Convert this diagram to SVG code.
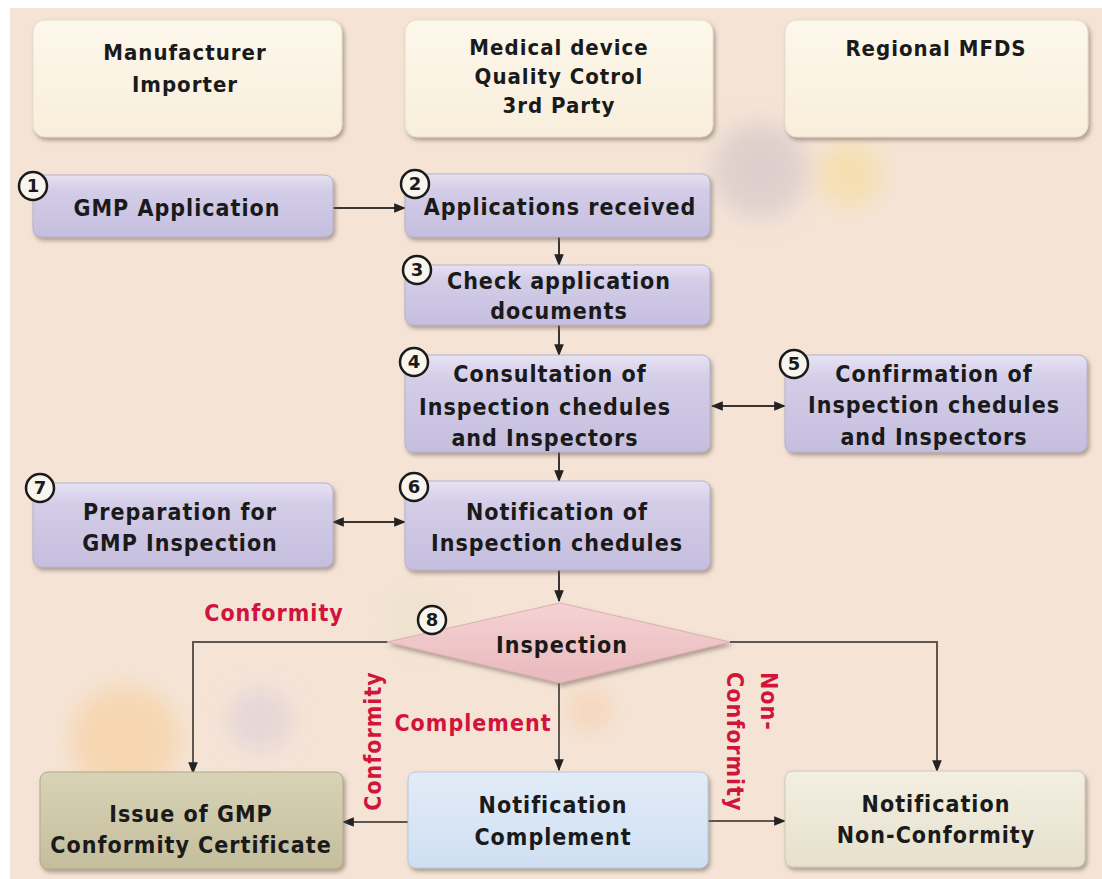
<svg xmlns="http://www.w3.org/2000/svg" width="1102" height="879" viewBox="0 0 1102 879">
<defs>
  <linearGradient id="gPurple" x1="0" y1="0" x2="0" y2="1">
    <stop offset="0" stop-color="#e6e2f3"/>
    <stop offset="0.25" stop-color="#d3cde8"/>
    <stop offset="1" stop-color="#c5bede"/>
  </linearGradient>
  <linearGradient id="gHead" x1="0" y1="0" x2="0" y2="1">
    <stop offset="0" stop-color="#fdf8ec"/>
    <stop offset="1" stop-color="#f8eedb"/>
  </linearGradient>
  <linearGradient id="gOlive" x1="0" y1="0" x2="0" y2="1">
    <stop offset="0" stop-color="#d8d3b6"/>
    <stop offset="1" stop-color="#c4be9d"/>
  </linearGradient>
  <linearGradient id="gBlue" x1="0" y1="0" x2="0" y2="1">
    <stop offset="0" stop-color="#e2ecf8"/>
    <stop offset="1" stop-color="#cfdff2"/>
  </linearGradient>
  <linearGradient id="gCream" x1="0" y1="0" x2="0" y2="1">
    <stop offset="0" stop-color="#f3efe2"/>
    <stop offset="1" stop-color="#e6e0cc"/>
  </linearGradient>
  <linearGradient id="gPink" x1="0" y1="0" x2="0" y2="1">
    <stop offset="0" stop-color="#f4d3d4"/>
    <stop offset="1" stop-color="#e9b9bd"/>
  </linearGradient>
  <filter id="sh" x="-10%" y="-10%" width="125%" height="130%">
    <feDropShadow dx="2" dy="3" stdDeviation="2" flood-color="#6f6258" flood-opacity="0.55"/>
  </filter>
  <filter id="blur" x="-50%" y="-50%" width="200%" height="200%">
    <feGaussianBlur stdDeviation="12"/>
  </filter>
  <marker id="ah2" viewBox="0 0 10 10" refX="9" refY="5" markerWidth="12" markerHeight="12" orient="auto-start-reverse" markerUnits="userSpaceOnUse">
    <path d="M0,1 L10,5 L0,9 z" fill="#222"/>
  </marker>
  <style>
    .t { font-family: "DejaVu Sans Condensed", "DejaVu Sans", "Liberation Sans", sans-serif; font-stretch: condensed; font-weight: bold; font-size: 23px; letter-spacing: 1px; fill: #1a1a1a; text-anchor: middle; }
    .h { font-size: 22px; }
    .r { fill: #d0143c; font-size: 23px; }
    .box { stroke: #b9b1cc; stroke-width: 1; filter: url(#sh); }
    .num { fill: #f8f4ee; stroke: #1a1a1a; stroke-width: 2.5; }
    .nt { font-family: "DejaVu Sans", "Liberation Sans", sans-serif; font-weight: bold; font-size: 18px; fill: #1a1a1a; text-anchor: middle; }
    .ln { fill: none; stroke: #3a3330; stroke-width: 2; }
    .ln2 { fill: none; stroke: #5e5650; stroke-width: 2; }
  </style>
</defs>

<rect x="0" y="0" width="1102" height="879" fill="#ffffff"/>
<rect x="10" y="8" width="1092" height="871" fill="#f5e4d6"/>
<g id="decor" filter="url(#blur)" opacity="0.5">
  <circle cx="760" cy="170" r="48" fill="#c9bcc4"/>
  <circle cx="850" cy="175" r="32" fill="#f6d98a"/>
  <circle cx="990" cy="90" r="26" fill="#f6d3a8"/>
  <circle cx="125" cy="740" r="55" fill="#f7c98e"/>
  <circle cx="260" cy="720" r="32" fill="#d8c8d8"/>
  <circle cx="590" cy="710" r="22" fill="#f6c7a0"/>
  <circle cx="420" cy="620" r="35" fill="#e9e0c8"/>
</g>

<g id="connectors">
  <line class="ln" x1="333" y1="208" x2="405" y2="208" marker-end="url(#ah2)"/>
  <line class="ln" x1="559" y1="237" x2="559" y2="265" marker-end="url(#ah2)"/>
  <line class="ln" x1="559" y1="325" x2="559" y2="355" marker-end="url(#ah2)"/>
  <line class="ln" x1="712" y1="406" x2="785" y2="406" marker-start="url(#ah2)" marker-end="url(#ah2)"/>
  <line class="ln" x1="559" y1="452" x2="559" y2="481" marker-end="url(#ah2)"/>
  <line class="ln" x1="333" y1="522" x2="405" y2="522" marker-start="url(#ah2)" marker-end="url(#ah2)"/>
  <line class="ln" x1="559" y1="570" x2="559" y2="601" marker-end="url(#ah2)"/>
  <polyline class="ln2" points="388,642 193,642 193,773" marker-end="url(#ah2)"/>
  <polyline class="ln2" points="730,642 937,642 937,771" marker-end="url(#ah2)"/>
  <line class="ln2" x1="559" y1="683" x2="559" y2="770" marker-end="url(#ah2)"/>
  <line class="ln2" x1="408" y1="822" x2="343" y2="822" marker-end="url(#ah2)"/>
  <line class="ln2" x1="708" y1="821" x2="785" y2="821" marker-end="url(#ah2)"/>
  <text class="t r" x="274" y="621">Conformity</text>
  <text class="t r" x="473" y="731">Complement</text>
  <text class="t r" transform="translate(381,741) rotate(-90)" x="0" y="0">Conformity</text>
  <g transform="translate(761,672) rotate(90)">
    <text class="t r" x="0" y="0" style="text-anchor:start">Non-</text>
    <text class="t r" x="0" y="34" style="text-anchor:start">Conformity</text>
  </g>
</g>

<g id="hdr-manufacturer">
  <rect x="33" y="20" width="309" height="117" rx="12" fill="url(#gHead)" stroke="#e8dcc6" filter="url(#sh)"/>
  <text class="t h" x="185" y="60">Manufacturer</text>
  <text class="t h" x="185" y="92">Importer</text>
</g>
<g id="hdr-medical">
  <rect x="405" y="20" width="308" height="117" rx="12" fill="url(#gHead)" stroke="#e8dcc6" filter="url(#sh)"/>
  <text class="t h" x="559" y="55">Medical device</text>
  <text class="t h" x="559" y="84">Quality Cotrol</text>
  <text class="t h" x="559" y="113">3rd Party</text>
</g>
<g id="hdr-mfds">
  <rect x="785" y="20" width="303" height="117" rx="12" fill="url(#gHead)" stroke="#e8dcc6" filter="url(#sh)"/>
  <text class="t h" x="936" y="56">Regional MFDS</text>
</g>

<g id="n1">
  <rect class="box" x="33" y="175" width="300" height="62" rx="8" fill="url(#gPurple)"/>
  <text class="t" x="177" y="216">GMP Application</text>
  <circle class="num" cx="33" cy="186" r="14"/>
  <text class="nt" x="33" y="192">1</text>
</g>
<g id="n2">
  <rect class="box" x="405" y="174" width="305" height="63" rx="8" fill="url(#gPurple)"/>
  <text class="t" x="560" y="215">Applications received</text>
  <circle class="num" cx="415" cy="184" r="14"/>
  <text class="nt" x="415" y="190">2</text>
</g>
<g id="n3">
  <rect class="box" x="405" y="265" width="305" height="60" rx="8" fill="url(#gPurple)"/>
  <text class="t" x="559" y="289">Check application</text>
  <text class="t" x="559" y="319">documents</text>
  <circle class="num" cx="417" cy="270" r="14"/>
  <text class="nt" x="417" y="276">3</text>
</g>
<g id="n4">
  <rect class="box" x="405" y="355" width="305" height="97" rx="8" fill="url(#gPurple)"/>
  <text class="t" x="550" y="382">Consultation of</text>
  <text class="t" x="545" y="415">Inspection chedules</text>
  <text class="t" x="545" y="446">and Inspectors</text>
  <circle class="num" cx="414" cy="362" r="14"/>
  <text class="nt" x="414" y="368">4</text>
</g>
<g id="n5">
  <rect class="box" x="785" y="355" width="302" height="97" rx="8" fill="url(#gPurple)"/>
  <text class="t" x="934" y="382">Confirmation of</text>
  <text class="t" x="934" y="413">Inspection chedules</text>
  <text class="t" x="934" y="445">and Inspectors</text>
  <circle class="num" cx="794" cy="364" r="14"/>
  <text class="nt" x="794" y="370">5</text>
</g>
<g id="n6">
  <rect class="box" x="405" y="481" width="305" height="89" rx="8" fill="url(#gPurple)"/>
  <text class="t" x="557" y="520">Notification of</text>
  <text class="t" x="557" y="551">Inspection chedules</text>
  <circle class="num" cx="414" cy="487" r="14"/>
  <text class="nt" x="414" y="493">6</text>
</g>
<g id="n7">
  <rect class="box" x="33" y="483" width="300" height="84" rx="8" fill="url(#gPurple)"/>
  <text class="t" x="180" y="520">Preparation for</text>
  <text class="t" x="180" y="551">GMP Inspection</text>
  <circle class="num" cx="40" cy="488" r="14"/>
  <text class="nt" x="40" y="494">7</text>
</g>
<g id="n8">
  <polygon points="387,642 560,603 730,642 560,683" fill="url(#gPink)" stroke="#dcb0b4" stroke-width="1" filter="url(#sh)"/>
  <text class="t" x="562" y="653">Inspection</text>
  <circle class="num" cx="432" cy="620" r="14"/>
  <text class="nt" x="432" y="626">8</text>
</g>
<g id="n9">
  <rect x="40" y="772" width="303" height="97" rx="8" fill="url(#gOlive)" stroke="#b0aa8a" filter="url(#sh)"/>
  <text class="t" x="191" y="822">Issue of GMP</text>
  <text class="t" x="191" y="853">Conformity Certificate</text>
</g>
<g id="n10">
  <rect x="408" y="772" width="300" height="96" rx="8" fill="url(#gBlue)" stroke="#b9c8dc" filter="url(#sh)"/>
  <text class="t" x="553" y="813">Notification</text>
  <text class="t" x="553" y="845">Complement</text>
</g>
<g id="n11">
  <rect x="785" y="771" width="300" height="96" rx="8" fill="url(#gCream)" stroke="#d0c9b2" filter="url(#sh)"/>
  <text class="t" x="936" y="812">Notification</text>
  <text class="t" x="936" y="843">Non-Conformity</text>
</g>
</svg>
